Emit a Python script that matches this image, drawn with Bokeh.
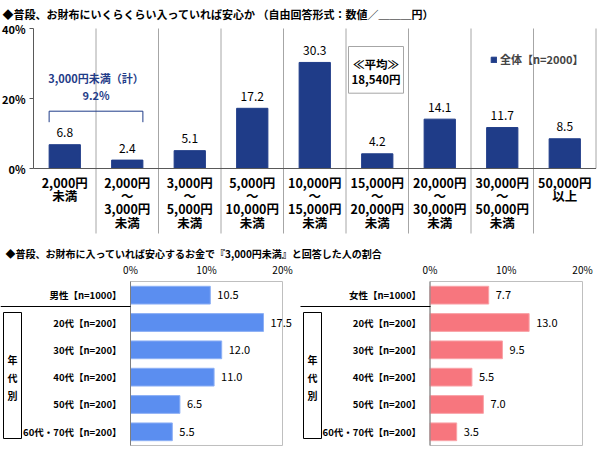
from bokeh.plotting import figure
from bokeh.models import Range1d, ColumnDataSource, Legend, LegendItem
from bokeh.core.properties import value
from bokeh.embed import file_html
from bokeh.resources import INLINE

# ------------------------------------------------------------------ data
top_categories = [
    "2,000円\n未満",
    "2,000円\n～\n3,000円\n未満",
    "3,000円\n～\n5,000円\n未満",
    "5,000円\n～\n10,000円\n未満",
    "10,000円\n～\n15,000円\n未満",
    "15,000円\n～\n20,000円\n未満",
    "20,000円\n～\n30,000円\n未満",
    "30,000円\n～\n50,000円\n未満",
    "50,000円\n以上",
]
top_values = [6.8, 2.4, 5.1, 17.2, 30.3, 4.2, 14.1, 11.7, 8.5]
top_ticks = [0, 20, 40]
top_tick_labels = ["0%", "20%", "40%"]
top_series = "全体【n=2000】"
average_lines = ["≪平均≫", "18,540円"]
subtotal_lines = ["3,000円未満（計）", "9.2%"]
title_top = "◆普段、お財布にいくらくらい入っていれば安心か （自由回答形式：数値／＿＿＿円）"
title_bottom = "◆普段、お財布に入っていれば安心するお金で『3,000円未満』と回答した人の割合"

male_categories = ["男性【n=1000】", "20代【n=200】", "30代【n=200】",
                   "40代【n=200】", "50代【n=200】", "60代・70代【n=200】"]
male_values = [10.5, 17.5, 12.0, 11.0, 6.5, 5.5]
female_categories = ["女性【n=1000】", "20代【n=200】", "30代【n=200】",
                     "40代【n=200】", "50代【n=200】", "60代・70代【n=200】"]
female_values = [7.7, 13.0, 9.5, 5.5, 7.0, 3.5]
bottom_ticks = [0, 10, 20]
bottom_tick_labels = ["0%", "10%", "20%"]
age_group_chars = ["年", "代", "別"]

# ------------------------------------------------------------------ layout / style
W, H = 600, 453
FONT_NAME = "Noto Sans CJK JP"
FONT = value(FONT_NAME)
NAVY = "#1F3C88"
AXIS = "#595959"
GRID = "#A6A6A6"
FRAME = "#BFBFBF"
BLUE_BAR, BLUE_EDGE = "#5B8EF0", "#8DB0F5"
PINK_BAR, PINK_EDGE = "#F7767E", "#F9A3A8"


def xr(d0, d1, p0, p1):
    k = (d1 - d0) / (p1 - p0)
    return Range1d(start=d0 - p0 * k, end=d0 + (W - p0) * k)


def yr(d0, d1, p0, p1):
    k = (d1 - d0) / (p1 - p0)
    return Range1d(start=d0 + (H - p0) * k, end=d0 - p0 * k)


def y_px_to_data(rng, py):
    return rng.end + (rng.start - rng.end) * py / H


p = figure(width=W, height=H, output_backend="svg", toolbar_location=None,
           x_axis_type=None, y_axis_type=None, min_border=0,
           x_range=Range1d(0, W), y_range=Range1d(H, 0),
           background_fill_color="white", border_fill_color="white",
           outline_line_color=None)
p.grid.visible = False

n_top = len(top_categories)
top_x = xr(0, n_top, 33, 595.5)
top_y = yr(0, 40, 168, 28)
row_pitch = 27.33
bot_y = yr(0, 5, 294.67, 294.67 + 5 * row_pitch)
left_x = xr(0, 20, 130, 282)
right_x = xr(0, 20, 429.5, 582)
p.extra_x_ranges = {"tx": top_x, "lx": left_x, "rx": right_x}
p.extra_y_ranges = {"ty": top_y, "by": bot_y}


def txt(x, y, text, size, bold=False, color="black", align="left",
        xr_name="default", yr_name="default", **kw):
    p.text(x=x, y=y, text=text, text_font=FONT, text_font_size=size,
           text_font_style="bold" if bold else "normal", text_color=color,
           text_align=align, text_baseline="middle",
           x_range_name=xr_name, y_range_name=yr_name, **kw)


# ------------------------------------------------------------------ titles
txt([2], [13], [title_top], "11px", bold=True)
txt([5], [253], [title_bottom], "10px", bold=True)

# ------------------------------------------------------------------ top chart
centers = [i + 0.5 for i in range(n_top)]
sep_bottom = y_px_to_data(top_y, 233)
p.segment(x0=list(range(1, n_top)), x1=list(range(1, n_top)),
          y0=[40] * (n_top - 1), y1=[sep_bottom] * (n_top - 1),
          line_color=GRID, line_width=1, x_range_name="tx", y_range_name="ty")
p.segment(x0=[n_top], x1=[n_top], y0=[0], y1=[40], line_color=GRID,
          line_width=1, x_range_name="tx", y_range_name="ty")

bars = p.vbar(x=centers, top=top_values, width=0.5, bottom=0, fill_color=NAVY,
              line_color=NAVY, x_range_name="tx", y_range_name="ty")

# axes
p.segment(x0=[0], x1=[0], y0=[0], y1=[40], line_color=AXIS,
          x_range_name="tx", y_range_name="ty")
p.segment(x0=[0], x1=[n_top], y0=[0], y1=[0], line_color=AXIS,
          x_range_name="tx", y_range_name="ty")
p.segment(x0=[29] * len(top_ticks), x1=[33] * len(top_ticks), y0=top_ticks,
          y1=top_ticks, line_color=AXIS, y_range_name="ty")
txt([25] * len(top_ticks), top_ticks, top_tick_labels, "11px", bold=True,
    align="right", yr_name="ty")

# values
txt(centers, top_values, [f"{v:.1f}" for v in top_values], "12px",
    align="center", xr_name="tx", yr_name="ty", y_offset=-12)

# category labels
lx, ly, lt = [], [], []
for i, cat in enumerate(top_categories):
    for k, line in enumerate(cat.split("\n")):
        lx.append(centers[i])
        ly.append(181.7 + 13.3 * k)
        lt.append(line)
txt(lx, ly, lt, "12.5px", bold=True, align="center", xr_name="tx")

# subtotal annotation
p.segment(x0=[0.25, 0.25, 1.75], x1=[1.75, 0.25, 1.75],
          y0=[110.7, 110.7, 110.7], y1=[110.7, 121.7, 121.7],
          line_color=NAVY, x_range_name="tx")
txt([1.0, 1.0], [77.3, 94.3], subtotal_lines, "11px", bold=True, color=NAVY,
    align="center", xr_name="tx")

# average box
p.quad(left=[348], right=[403], top=[46], bottom=[92.7], fill_color="white",
       line_color=GRID)
txt([375.5, 375.5], [63, 78.5], average_lines, "11.5px", bold=True,
    align="center")

legend = Legend(items=[LegendItem(label=top_series, renderers=[bars])],
                location=(490, 386), glyph_width=7, glyph_height=7,
                label_text_font=FONT_NAME, label_text_font_size="11px",
                label_text_font_style="bold", label_standoff=3,
                label_height=14, padding=0, margin=0, spacing=0,
                border_line_color=None, background_fill_alpha=0)
p.add_layout(legend)


# ------------------------------------------------------------------ bottom charts
def bottom_chart(cats, vals, xname, px_off, color, edge):
    rows = list(range(len(cats)))
    n = len(cats)
    # frame
    p.quad(left=[0], right=[20], top=[-0.5], bottom=[n - 0.5], fill_color=None,
           line_color=FRAME, x_range_name=xname, y_range_name="by")
    p.hbar(y=rows, left=0, right=vals, height=0.65, fill_color=color,
           line_color=edge, x_range_name=xname, y_range_name="by")
    p.segment(x0=[0], x1=[0], y0=[-0.5], y1=[n - 0.5], line_color="#7F7F7F",
              x_range_name=xname, y_range_name="by")
    # ticks on top
    txt(bottom_ticks, [268.7] * len(bottom_ticks), bottom_tick_labels, "10px",
        align="center", xr_name=xname)
    # category labels
    txt([0] * n, rows, cats, "9.5px", bold=True, align="right",
        xr_name=xname, yr_name="by", x_offset=-9)
    # values
    txt(vals, rows, [f"{v:.1f}" for v in vals], "11px", align="left",
        xr_name=xname, yr_name="by", x_offset=7)
    # separator and age box
    p.segment(x0=[px_off], x1=[px_off + 130], y0=[306], y1=[306],
              line_color="black", line_width=1)
    p.quad(left=[px_off + 3], right=[px_off + 21], top=[312], bottom=[438],
           fill_color=None, line_color="black")
    txt([px_off + 12] * 3, [359, 377, 395], age_group_chars, "10px",
        bold=True, align="center")


bottom_chart(male_categories, male_values, "lx", 0, BLUE_BAR, BLUE_EDGE)
bottom_chart(female_categories, female_values, "rx", 300, PINK_BAR, PINK_EDGE)

open("out.html", "w").write(file_html(p, INLINE))
